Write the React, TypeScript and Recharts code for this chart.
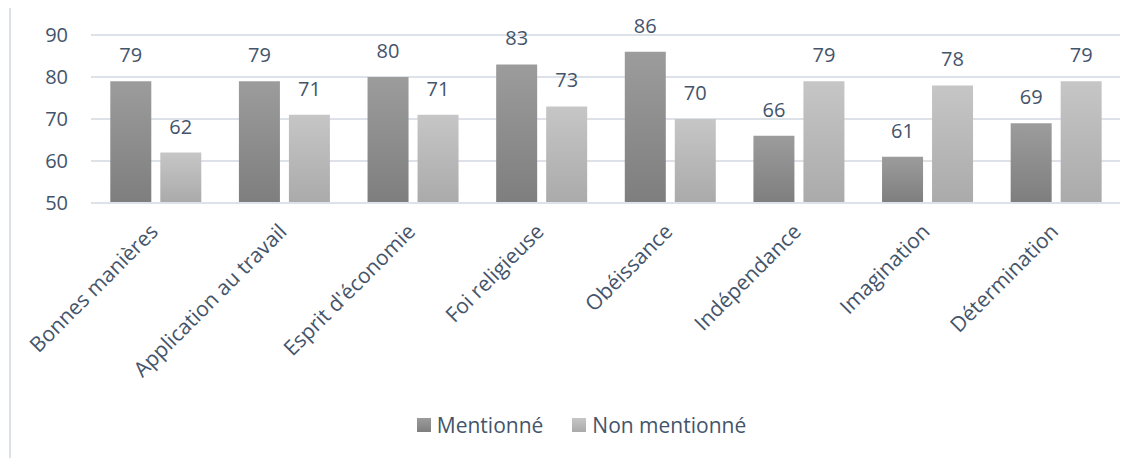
import React from 'react';
import { BarChart, Bar, XAxis, YAxis, CartesianGrid, Legend, LabelList } from 'recharts';

const categories = [
  'Bonnes manières',
  'Application au travail',
  "Esprit d'économie",
  'Foi religieuse',
  'Obéissance',
  'Indépendance',
  'Imagination',
  'Détermination',
];
const mentionne = [79, 79, 80, 83, 86, 66, 61, 69];
const nonMentionne = [62, 71, 71, 73, 70, 79, 78, 79];
const yTicks = [50, 60, 70, 80, 90];

const data = categories.map((name, i) => ({
  name,
  mentionne: mentionne[i],
  nonMentionne: nonMentionne[i],
}));

const TEXT = '#44546A';
const GRID = '#dde1e8';
const FONT = '"Open Sans", sans-serif';
const FS = 20;

function CategoryTick(props: any) {
  const { x, y, payload } = props;
  return (
    <g transform={`translate(${x + 4}, ${y + 22})`}>
      <text x={0} y={0} textAnchor="end" transform="rotate(-45)" fill={TEXT} fontSize={21} fontFamily={FONT}>
        {payload.value}
      </text>
    </g>
  );
}

function LegendContent() {
  const items = [
    { label: 'Mentionné', id: 'legDark', top: '#9c9c9c', bottom: '#7e7e7e' },
    { label: 'Non mentionné', id: 'legLight', top: '#c6c6c6', bottom: '#aaaaaa' },
  ];
  return (
    <div
      style={{
        display: 'flex',
        justifyContent: 'center',
        alignItems: 'center',
        gap: 29,
        paddingLeft: 32,
        marginTop: -2,
        fontFamily: FONT,
        fontSize: 21,
        color: TEXT,
      }}
    >
      {items.map((it) => (
        <div key={it.id} style={{ display: 'flex', alignItems: 'center', gap: 6 }}>
          <svg width={14} height={14}>
            <defs>
              <linearGradient id={it.id} x1="0" y1="0" x2="0" y2="1">
                <stop offset="0%" stopColor={it.top} />
                <stop offset="100%" stopColor={it.bottom} />
              </linearGradient>
            </defs>
            <rect width={14} height={14} fill={`url(#${it.id})`} />
          </svg>
          <span>{it.label}</span>
        </div>
      ))}
    </div>
  );
}

export default function App() {
  return (
    <div
      style={{
        position: 'relative',
        marginLeft: 1,
        marginTop: -2,
        width: 1140,
        height: 460,
        borderLeft: `2px solid ${GRID}`,
        borderTop: `2px solid ${GRID}`,
        background: '#fff',
      }}
    >
      <BarChart
        width={1118}
        height={444}
        data={data}
        margin={{ top: 27, right: 9, bottom: 0, left: 0 }}
        barCategoryGap="15%"
        barGap={9}
      >
        <defs>
          <linearGradient id="gradDark" x1="0" y1="0" x2="0" y2="1">
            <stop offset="0%" stopColor="#9c9c9c" />
            <stop offset="100%" stopColor="#7e7e7e" />
          </linearGradient>
          <linearGradient id="gradLight" x1="0" y1="0" x2="0" y2="1">
            <stop offset="0%" stopColor="#c6c6c6" />
            <stop offset="100%" stopColor="#aaaaaa" />
          </linearGradient>
        </defs>
        <CartesianGrid vertical={false} stroke={GRID} strokeWidth={2} />
        <XAxis
          dataKey="name"
          interval={0}
          height={210}
          tickLine={false}
          axisLine={{ stroke: GRID, strokeWidth: 2 }}
          tick={<CategoryTick />}
        />
        <YAxis
          domain={[50, 90]}
          ticks={yTicks}
          width={80}
          axisLine={false}
          tickLine={false}
          tickMargin={17}
          tick={{ fill: TEXT, fontSize: FS, fontFamily: FONT }}
        />
        <Legend verticalAlign="bottom" height={39} content={<LegendContent />} />
        <Bar dataKey="mentionne" name="Mentionné" fill="url(#gradDark)" isAnimationActive={false}>
          <LabelList dataKey="mentionne" position="top" offset={19} fill={TEXT} fontSize={FS} fontFamily={FONT} />
        </Bar>
        <Bar dataKey="nonMentionne" name="Non mentionné" fill="url(#gradLight)" isAnimationActive={false}>
          <LabelList dataKey="nonMentionne" position="top" offset={19} fill={TEXT} fontSize={FS} fontFamily={FONT} />
        </Bar>
      </BarChart>
    </div>
  );
}
